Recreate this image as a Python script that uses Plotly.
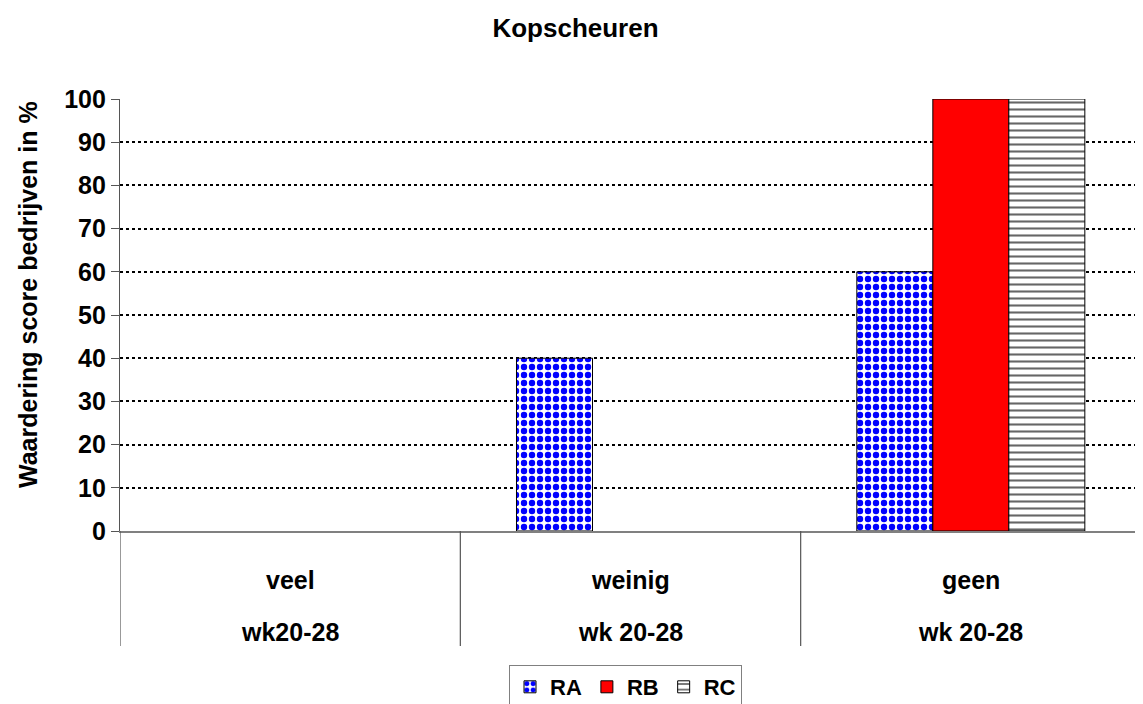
import plotly.graph_objects as go

categories = ["veel", "weinig", "geen"]
periods = ["wk20-28", "wk 20-28", "wk 20-28"]
series_names = ["RA", "RB", "RC"]
ra_values = [0, 40, 60]
rb_values = [0, 0, 100]
rc_values = [0, 0, 100]
y_ticks = [0, 10, 20, 30, 40, 50, 60, 70, 80, 90, 100]

FONT = "Liberation Sans, Arial, sans-serif"
# page body has an 8px margin; figure is sized/placed to compensate
OFF = 8
W, H = 1143 - OFF, 704 - OFF
L, T = 120 - OFF, 99 - OFF
PLOT_BOTTOM = 531 - OFF
PLOT_RIGHT = 1141 - OFF
plot_h = PLOT_BOTTOM - T
plot_w = PLOT_RIGHT - L
xpos = list(range(len(categories)))


def nz(vals):
    return [v if v else None for v in vals]


def bold(size):
    return dict(family=FONT, size=size, color="black", weight="bold")


fig = go.Figure()
fig.add_trace(go.Bar(
    name=series_names[0], x=xpos, y=nz(ra_values),
    marker=dict(color="white", line=dict(color="black", width=1),
                pattern=dict(shape=".", fgcolor="#0000FF", bgcolor="white",
                             size=8, solidity=0.5, fillmode="replace")),
))
fig.add_trace(go.Bar(
    name=series_names[1], x=xpos, y=nz(rb_values),
    marker=dict(color="#FF0000", line=dict(color="black", width=1)),
))
fig.add_trace(go.Bar(
    name=series_names[2], x=xpos, y=nz(rc_values),
    marker=dict(color="white", line=dict(color="black", width=1),
                pattern=dict(shape="-", fgcolor="#666666", bgcolor="white",
                             size=7, solidity=0.3, fillmode="replace")),
))

sep_bottom = -(646 - 531) / plot_h
shapes = []
for b in [-0.5, 0.5, 1.5, 2.5]:
    shapes.append(dict(type="line", xref="x", yref="paper", x0=b, x1=b,
                       y0=0, y1=sep_bottom, line=dict(color="#555555", width=1.2)))

annotations = []
for i, (c, p) in enumerate(zip(categories, periods)):
    annotations.append(dict(x=i, y=-(580 - 531) / plot_h, xref="x", yref="paper",
                            text=c, showarrow=False, yanchor="middle", font=bold(25)))
    annotations.append(dict(x=i, y=-(632 - 531) / plot_h, xref="x", yref="paper",
                            text=p, showarrow=False, yanchor="middle", font=bold(25)))

# y-axis title as rotated annotation (placed as in the reference)
annotations.append(dict(text="Waardering score bedrijven in %", textangle=-90,
                        xref="paper", yref="paper",
                        x=(28 - 120) / plot_w, y=(531 - 295) / plot_h,
                        xanchor="center", yanchor="middle", showarrow=False,
                        font=bold(25)))

fig.update_layout(
    width=W, height=H,
    margin=dict(l=L, r=W - PLOT_RIGHT, t=T, b=H - PLOT_BOTTOM, autoexpand=False),
    paper_bgcolor="white", plot_bgcolor="white",
    barmode="group", bargap=0.33, bargroupgap=0,
    title=dict(text="Kopscheuren", x=0.5, xref="container", y=1 - (28 - OFF) / H,
               yref="container", yanchor="middle", automargin=False,
               font=bold(26)),
    font=dict(family=FONT, color="black"),
    xaxis=dict(range=[-0.5, 2.5], showticklabels=False, ticks="", showgrid=False,
               automargin=False,
               showline=True, linecolor="#808080", linewidth=2, zeroline=False, fixedrange=True),
    yaxis=dict(range=[0, 100], tickvals=y_ticks, ticks="outside", ticklen=8,
               tickcolor="#555555", tickwidth=1.2, automargin=False,
               showline=True, linecolor="#555555", linewidth=1.2,
               showgrid=True, gridcolor="black", gridwidth=1.5, griddash="dot",
               zeroline=False, tickfont=bold(25)),
    shapes=shapes,
    annotations=annotations,
    legend=dict(orientation="h", x=(625.5 - 120) / plot_w, xanchor="center",
                y=-(665 - 531) / plot_h, yanchor="top",
                bordercolor="#808080", borderwidth=1,
                font=bold(22), itemwidth=30, tracegroupgap=0),
    showlegend=True,
)

fig.write_html("out.html")
